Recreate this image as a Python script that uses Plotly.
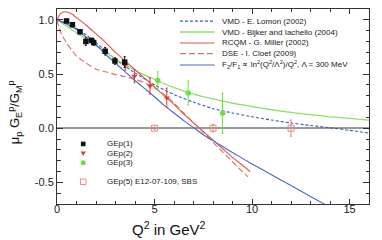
import plotly.graph_objects as go

# ---------------- data ----------------
gep1_q2 = [0.49, 0.79, 1.18, 1.48, 1.77, 1.88, 2.47, 2.97, 3.47]
gep1_r = [0.99, 0.955, 0.89, 0.80, 0.81, 0.79, 0.71, 0.62, 0.61]
gep1_err = [0.012, 0.015, 0.02, 0.035, 0.02, 0.025, 0.035, 0.03, 0.05]

gep2_q2 = [3.5, 3.97, 4.77, 5.63]
gep2_r = [0.58, 0.48, 0.39, 0.28]
gep2_err = [0.045, 0.06, 0.075, 0.09]

gep3_q2 = [5.17, 6.73, 8.49]
gep3_r = [0.44, 0.325, 0.137]
gep3_err = [0.08, 0.11, 0.185]

gep5_q2 = [5.0, 8.0, 12.0]
gep5_r = [0.0, 0.0, 0.0]
gep5_err = [0.012, 0.035, 0.075]

lomon_q2 = [0, 0.5, 1, 1.5, 2, 2.5, 3, 3.5, 4, 5, 6, 7, 8, 9, 10, 11, 12, 13, 14, 15, 16]
lomon_r = [1.0, 0.97, 0.92, 0.86, 0.79, 0.71, 0.635, 0.57, 0.51, 0.40, 0.31, 0.24, 0.18,
           0.14, 0.105, 0.075, 0.048, 0.025, 0.004, -0.02, -0.045]

bijker_q2 = [0, 0.5, 1, 1.5, 2, 2.5, 3, 3.5, 4, 4.5, 5, 5.5, 6, 7, 8, 9, 10, 11, 12, 13, 14, 15, 16]
bijker_r = [1.0, 0.94, 0.88, 0.82, 0.76, 0.70, 0.64, 0.585, 0.535, 0.49, 0.45, 0.41, 0.375,
            0.315, 0.27, 0.23, 0.20, 0.17, 0.145, 0.125, 0.105, 0.09, 0.075]

miller_q2 = [0, 0.15, 0.4, 0.7, 1, 1.5, 2, 2.5, 3, 3.5, 4, 4.5, 5, 5.5, 6, 6.5, 7, 7.5, 8, 8.5, 9, 9.5, 9.9]
miller_r = [1.0, 1.05, 1.075, 1.06, 1.02, 0.95, 0.87, 0.79, 0.70, 0.62, 0.54, 0.46, 0.38, 0.30,
            0.22, 0.13, 0.05, -0.03, -0.11, -0.19, -0.27, -0.34, -0.40]

cloet_q2 = [0, 0.1, 0.25, 0.5, 0.75, 1, 1.5, 2, 2.5, 3, 3.5, 4, 4.5, 5, 5.5, 6, 6.5, 7, 7.5, 8, 8.5, 9, 9.5, 9.8]
cloet_r = [1.0, 0.93, 0.86, 0.785, 0.72, 0.665, 0.60, 0.545, 0.52, 0.495, 0.475, 0.45, 0.42, 0.37,
           0.31, 0.23, 0.14, 0.05, -0.04, -0.13, -0.22, -0.31, -0.40, -0.45]

pqcd_q2 = [0, 0.5, 1, 1.5, 2, 2.5, 3, 3.5, 4, 4.5, 5, 5.5, 6, 6.5, 7, 7.5, 8, 8.5, 9, 10, 11, 12, 13, 14]
pqcd_r = [1.0, 0.96, 0.91, 0.84, 0.77, 0.68, 0.60, 0.52, 0.44, 0.365, 0.29, 0.21, 0.14, 0.07,
          0.005, -0.06, -0.115, -0.17, -0.225, -0.33, -0.43, -0.53, -0.63, -0.73]

curve_names = ["VMD - E. Lomon (2002)", "VMD - Bijker and Iachello (2004)",
               "RCQM - G. Miller (2002)", "DSE - I. Cloet (2009)",
               "F<sub>2</sub>/F<sub>1</sub> \u221d ln<sup>2</sup>(Q<sup>2</sup>/\u039b<sup>2</sup>)/Q<sup>2</sup>, \u039b = 300 MeV"]
data_names = ["GEp(1)", "GEp(2)", "GEp(3)", "GEp(5) E12-07-109, SBS"]

# ---------------- styles ----------------
c_lomon = "#3a55d0"
c_bijker = "#8fe06a"
c_miller = "#e0564a"
c_cloet = "#d8745e"
c_pqcd = "#4a66d0"
c_g1 = "#111111"
c_g2 = "#e0402a"
c_g3 = "#6ee040"
c_g5 = "#e58a7a"

fig = go.Figure()

curves = [
    (lomon_q2, lomon_r, c_lomon, "3px,2px", 1.1),
    (bijker_q2, bijker_r, c_bijker, "solid", 1.3),
    (miller_q2, miller_r, c_miller, "solid", 1.1),
    (cloet_q2, cloet_r, c_cloet, "6px,3px", 1.1),
    (pqcd_q2, pqcd_r, c_pqcd, "solid", 1.1),
]
for (xs, ys, col, dash, w), nm in zip(curves, curve_names):
    fig.add_trace(go.Scatter(x=xs, y=ys, mode="lines", name=nm, showlegend=False,
                             line=dict(color=col, dash=dash, width=w, shape="spline", smoothing=0.6)))

def pts(xs, ys, errs, col, sym, size, nm, lw=0):
    fig.add_trace(go.Scatter(x=xs, y=ys, mode="markers", name=nm, showlegend=False,
                             error_y=dict(type="data", array=errs, color=col, thickness=1, width=1),
                             marker=dict(color=col, symbol=sym, size=size,
                                         line=dict(width=lw, color=col))))

pts(gep5_q2, gep5_r, gep5_err, c_g5, "square-open", 6, data_names[3], 1)
pts(gep3_q2, gep3_r, gep3_err, c_g3, "circle", 5.5, data_names[2])
pts(gep2_q2, gep2_r, gep2_err, c_g2, "triangle-down", 5.5, data_names[1])
pts(gep1_q2, gep1_r, gep1_err, c_g1, "square", 5.5, data_names[0])

# ---------------- manual legends ----------------
font_leg = dict(family="Liberation Sans, Arial, sans-serif", size=8, color="#1a1a1a")
annotations = []
shapes = []
leg1_y = [0.938, 0.882, 0.826, 0.771, 0.713]
for (xs, ys, col, dash, w), nm, yy in zip(curves, curve_names, leg1_y):
    shapes.append(dict(type="line", xref="paper", yref="paper", x0=0.394, x1=0.505, y0=yy, y1=yy,
                       line=dict(color=col, dash=dash, width=w)))
    annotations.append(dict(xref="paper", yref="paper", x=0.522, y=yy, text=nm, showarrow=False,
                            xanchor="left", yanchor="middle", font=font_leg))

leg2_y = [0.308, 0.259, 0.211, 0.114]
mx = 0.084
shapes.append(dict(type="rect", xref="paper", yref="paper", xsizemode="pixel", ysizemode="pixel",
                   xanchor=mx, yanchor=leg2_y[0], x0=-2.3, x1=2.3, y0=-2.3, y1=2.3,
                   fillcolor=c_g1, line=dict(width=0)))
shapes.append(dict(type="path", xref="paper", yref="paper", xsizemode="pixel", ysizemode="pixel",
                   xanchor=mx, yanchor=leg2_y[1], path="M -2.6,2 L 2.6,2 L 0,-2.6 Z",
                   fillcolor=c_g2, line=dict(width=0)))
shapes.append(dict(type="circle", xref="paper", yref="paper", xsizemode="pixel", ysizemode="pixel",
                   xanchor=mx, yanchor=leg2_y[2], x0=-2.5, x1=2.5, y0=-2.5, y1=2.5,
                   fillcolor=c_g3, line=dict(width=0)))
shapes.append(dict(type="rect", xref="paper", yref="paper", xsizemode="pixel", ysizemode="pixel",
                   xanchor=mx, yanchor=leg2_y[3], x0=-2.8, x1=2.8, y0=-2.8, y1=2.8,
                   line=dict(width=1, color=c_g5)))
for nm, yy in zip(data_names, leg2_y):
    annotations.append(dict(xref="paper", yref="paper", x=0.154, y=yy, text=nm, showarrow=False,
                            xanchor="left", yanchor="middle", font=font_leg))

annotations.append(dict(xref="paper", yref="paper", x=0.36, y=-0.125, showarrow=False,
                        text="Q<sup>2</sup> in GeV<sup>2</sup>", xanchor="center", yanchor="middle",
                        font=dict(family="Liberation Sans, Arial, sans-serif", size=15, color="#111111")))
annotations.append(dict(xref="paper", yref="paper", x=-0.135, y=0.47, showarrow=False, textangle=-90,
                        text="\u03bc<sub>p</sub> G<sub>E</sub><sup>p</sup>/G<sub>M</sub><sup>p</sup>",
                        xanchor="center", yanchor="middle",
                        font=dict(family="Liberation Sans, Arial, sans-serif", size=13, color="#111111")))

tickfont = dict(family="Liberation Sans, Arial, sans-serif", size=11, color="#222222")
fig.update_layout(
    width=382, height=240,
    margin=dict(l=57, r=13, t=9, b=36),
    paper_bgcolor="white", plot_bgcolor="white",
    showlegend=False,
    shapes=shapes, annotations=annotations,
    xaxis=dict(range=[0, 16], showline=True, linecolor="#333333", linewidth=1, mirror="ticks",
               ticks="inside", ticklen=5, tickcolor="#333333", tickvals=[0, 5, 10, 15],
               ticktext=["0", "5", "10", "15"], ticklabelstandoff=-5,
               minor=dict(tick0=0, dtick=1, ticks="inside", ticklen=3, tickcolor="#333333"),
               showgrid=False, zeroline=False, tickfont=tickfont),
    yaxis=dict(range=[-0.7, 1.1], showline=True, linecolor="#333333", linewidth=1, mirror="ticks",
               ticks="inside", ticklen=6, tickcolor="#333333", tickvals=[-0.5, 0, 0.5, 1.0],
               ticktext=["-0.5", "0.0", "0.5", "1.0"],
               minor=dict(tick0=0, dtick=0.1, ticks="inside", ticklen=3.5, tickcolor="#333333"),
               showgrid=False, zeroline=True, zerolinecolor="#999999", zerolinewidth=1.5,
               tickfont=tickfont),
)

fig.write_html("out.html", config={"displayModeBar": False},
               post_script="document.body.style.margin='0';document.body.style.padding='0';")
